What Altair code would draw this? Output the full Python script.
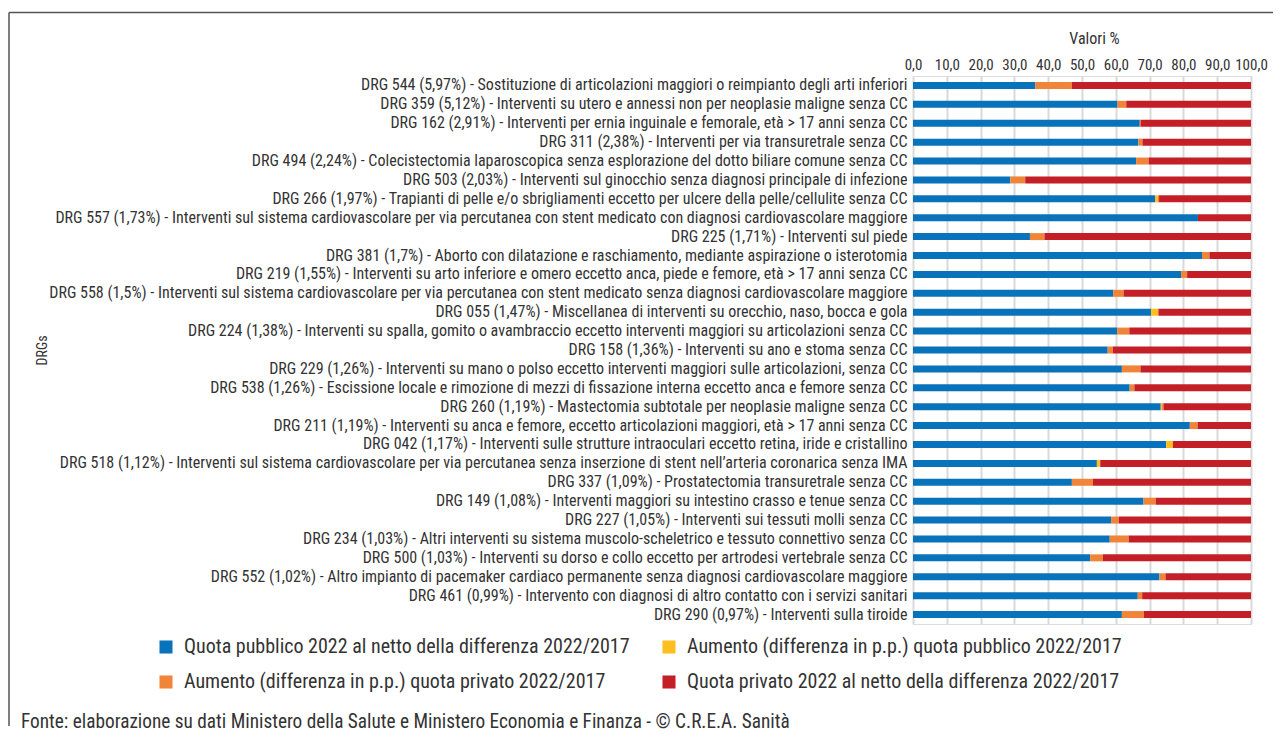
import altair as alt
import pandas as pd

labels = [
    "DRG 544 (5,97%) - Sostituzione di articolazioni maggiori o reimpianto degli arti inferiori",
    "DRG 359 (5,12%) - Interventi su utero e annessi non per neoplasie maligne senza CC",
    "DRG 162 (2,91%) - Interventi per ernia inguinale e femorale, età > 17 anni senza CC",
    "DRG 311 (2,38%)  - Interventi per via transuretrale senza CC",
    "DRG 494 (2,24%) - Colecistectomia laparoscopica senza esplorazione del dotto biliare comune senza CC",
    "DRG 503 (2,03%) - Interventi sul ginocchio senza diagnosi principale di infezione",
    "DRG 266 (1,97%) - Trapianti di pelle e/o sbrigliamenti eccetto per ulcere della pelle/cellulite senza CC",
    "DRG 557 (1,73%) - Interventi sul sistema cardiovascolare per via percutanea con stent medicato con diagnosi cardiovascolare maggiore",
    "DRG 225 (1,71%) - Interventi sul piede",
    "DRG 381 (1,7%) - Aborto con dilatazione e raschiamento, mediante aspirazione o isterotomia",
    "DRG 219 (1,55%) - Interventi su arto inferiore e omero eccetto anca, piede e femore, età > 17 anni senza CC",
    "DRG 558 (1,5%) - Interventi sul sistema cardiovascolare per via percutanea con stent medicato senza diagnosi cardiovascolare maggiore",
    "DRG 055 (1,47%) - Miscellanea di interventi su orecchio, naso, bocca e gola",
    "DRG 224 (1,38%) - Interventi su spalla, gomito o avambraccio eccetto interventi maggiori su articolazioni senza CC",
    "DRG 158 (1,36%) - Interventi su ano e stoma senza CC",
    "DRG 229 (1,26%) - Interventi su mano o polso eccetto interventi maggiori sulle articolazioni, senza CC",
    "DRG 538 (1,26%) - Escissione locale e rimozione di mezzi di fissazione interna eccetto anca e femore senza CC",
    "DRG 260 (1,19%) - Mastectomia subtotale per neoplasie maligne senza CC",
    "DRG 211 (1,19%) - Interventi su anca e femore, eccetto articolazioni maggiori, età > 17 anni senza CC",
    "DRG 042 (1,17%) - Interventi sulle strutture intraoculari eccetto retina, iride e cristallino",
    "DRG 518 (1,12%) - Interventi sul sistema cardiovascolare per via percutanea senza inserzione di stent nell’arteria coronarica senza IMA",
    "DRG 337 (1,09%) - Prostatectomia transuretrale senza CC",
    "DRG 149 (1,08%) - Interventi maggiori su intestino crasso e tenue senza CC",
    "DRG 227 (1,05%) - Interventi sui tessuti molli senza CC",
    "DRG 234 (1,03%) - Altri interventi su sistema muscolo-scheletrico e tessuto connettivo senza CC",
    "DRG 500 (1,03%) - Interventi su dorso e collo eccetto per artrodesi vertebrale senza CC",
    "DRG 552 (1,02%) - Altro impianto di pacemaker cardiaco permanente senza diagnosi cardiovascolare maggiore",
    "DRG 461 (0,99%) - Intervento con diagnosi di altro contatto con i servizi sanitari",
    "DRG 290 (0,97%)  - Interventi sulla tiroide",
]

pubblico_netto = [36.2, 60.5, 67.1, 66.7, 66.0, 28.8, 71.6, 84.3, 34.6, 85.5,
                  79.3, 59.2, 70.4, 60.4, 57.6, 61.8, 64.1, 73.3, 81.9, 74.9,
                  54.4, 47.0, 68.2, 58.6, 58.2, 52.4, 72.9, 66.5, 61.8]
aumento_pubblico = [0.0, 0.0, 0.0, 0.0, 0.0, 0.0, 0.8, 0.0, 0.0, 0.0,
                    0.0, 0.0, 2.2, 0.0, 0.0, 0.0, 0.0, 0.4, 0.0, 2.0,
                    1.0, 0.0, 0.0, 0.0, 0.0, 0.0, 0.0, 0.0, 0.0]
aumento_privato = [10.8, 2.6, 0.3, 1.2, 3.7, 4.4, 0.4, 0.0, 4.3, 2.2,
                   1.8, 3.1, 0.0, 3.6, 1.5, 5.5, 1.4, 0.4, 2.3, 0.0,
                   0.0, 6.2, 3.6, 2.3, 5.6, 3.8, 1.8, 1.3, 6.5]
privato_netto = [53.0, 36.9, 32.6, 32.1, 30.3, 66.8, 27.2, 15.7, 61.1, 12.3,
                 18.9, 37.7, 27.4, 36.0, 40.9, 32.7, 34.5, 25.9, 15.8, 23.1,
                 44.6, 46.8, 28.2, 39.1, 36.2, 43.8, 25.3, 32.2, 31.7]

series_names = [
    "Quota pubblico 2022 al netto della differenza 2022/2017",
    "Aumento (differenza in p.p.) quota pubblico 2022/2017",
    "Aumento (differenza in p.p.) quota privato 2022/2017",
    "Quota privato 2022 al netto della differenza 2022/2017",
]
series_colors = ["#0872BA", "#FDBE1F", "#F08439", "#C41F27"]
# legend is laid out column by column: blue, orange | yellow, red
legend_order = [0, 2, 1, 3]
source_text = "Fonte: elaborazione su dati Ministero della Salute e Ministero Economia e Finanza - © C.R.E.A. Sanità"

rows = []
for i, lab in enumerate(labels):
    for k, vals in enumerate([pubblico_netto, aumento_pubblico, aumento_privato, privato_netto]):
        rows.append({"drg": lab, "serie": series_names[k], "ord": k, "valore": vals[i]})
df = pd.DataFrame(rows)

FONT = "'Roboto Condensed', 'DejaVu Sans Condensed', 'Liberation Sans Narrow', Roboto, sans-serif"
TXT = "#333333"
W, H = 338, 548

bars = alt.Chart(df).mark_bar(size=7).encode(
    x=alt.X("valore:Q", stack="zero",
            scale=alt.Scale(domain=[0, 100], nice=False),
            axis=alt.Axis(orient="top", values=list(range(0, 101, 10)),
                          labelExpr="replace(format(datum.value, '.1f'), '.', ',')",
                          labelOverlap=False, labelFlush=False,
                          grid=True, gridColor="#d9d9d9", gridWidth=2,
                          domain=False, ticks=False, labelPadding=4,
                          labelFontSize=15, labelColor=TXT, labelFont=FONT,
                          title="Valori %", titleFontSize=16, titleFontWeight="normal",
                          titleColor=TXT, titleFont=FONT, titleX=181, titleY=-37.5,
                          titleBaseline="middle")),
    y=alt.Y("drg:N", sort=labels,
            scale=alt.Scale(paddingInner=0.62, paddingOuter=0.31),
            axis=alt.Axis(labelLimit=2000, labelFontSize=16, labelColor=TXT,
                          labelFont=FONT, ticks=False, domain=False, labelPadding=6,
                          title="DRGs", titleFontSize=14, titleFontWeight="normal",
                          titleColor=TXT, titleFont=FONT, titleAngle=270,
                          titleX=-864, titleY=H / 2)),
    color=alt.Color("serie:N",
                    scale=alt.Scale(domain=[series_names[j] for j in legend_order],
                                    range=[series_colors[j] for j in legend_order]),
                    legend=alt.Legend(orient="none", legendX=-757, legendY=561,
                                      columns=2, columnPadding=29, rowPadding=15,
                                      symbolType="square", symbolSize=170,
                                      symbolStrokeWidth=0, labelFontSize=20,
                                      labelFont=FONT, labelColor=TXT, labelOffset=8,
                                      labelLimit=1000, title=None)),
    order=alt.Order("ord:Q"),
)

one = alt.Data(values=[{"t": source_text}])
left_border = alt.Chart(one).mark_rule(color="#555555", strokeWidth=1.5).encode(
    x=alt.value(-904), y=alt.value(-63.5), y2=alt.value(650))
top_border = alt.Chart(one).mark_rule(color="#555555", strokeWidth=1.5).encode(
    x=alt.value(-904), x2=alt.value(360), y=alt.value(-63.5))
source = alt.Chart(one).mark_text(align="left", baseline="middle", fontSize=19.3,
                                   font=FONT, color=TXT).encode(
    x=alt.value(-892), y=alt.value(646), text="t:N")

chart = alt.layer(bars, left_border, top_border, source).properties(
    width=W, height=H, padding={"left": 0, "top": 3, "right": 0, "bottom": 0}
).configure_view(stroke=None).configure(font=FONT)

chart.save("out.html", embed_options={"renderer": "svg", "actions": False})
